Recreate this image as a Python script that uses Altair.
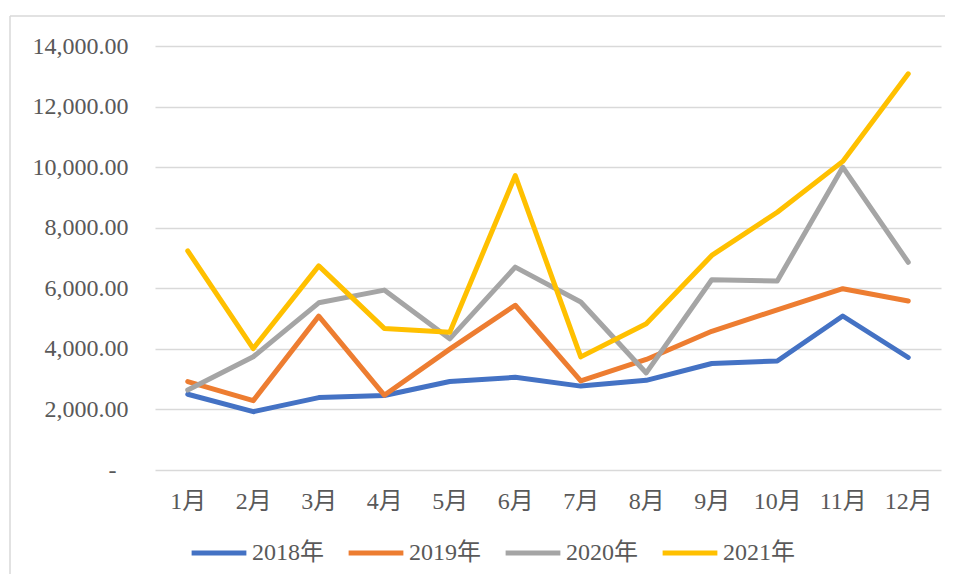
import altair as alt
import pandas as pd

months = ["1月", "2月", "3月", "4月", "5月", "6月", "7月", "8月", "9月", "10月", "11月", "12月"]
series_names = ["2018年", "2019年", "2020年", "2021年"]
v2018 = [2500, 1925, 2390, 2460, 2920, 3060, 2770, 2960, 3515, 3600, 5085, 3715]
v2019 = [2920, 2290, 5080, 2470, 3990, 5440, 2940, 3650, 4580, 5290, 5985, 5580]
v2020 = [2640, 3740, 5520, 5940, 4330, 6700, 5545, 3205, 6280, 6240, 10000, 6860]
v2021 = [7235, 4010, 6740, 4675, 4545, 9720, 3735, 4830, 7085, 8510, 10190, 13080]
colors = ["#4472C4", "#ED7D31", "#A5A5A5", "#FFC000"]
y_ticks = [0, 2000, 4000, 6000, 8000, 10000, 12000, 14000]

rows = []
for name, vals in zip(series_names, [v2018, v2019, v2020, v2021]):
    for m, v in zip(months, vals):
        rows.append({"month": m, "series": name, "value": v})
df = pd.DataFrame(rows)

FONT = "Liberation Serif, Times New Roman, Noto Sans CJK SC"

lines = alt.Chart(df).mark_line(strokeWidth=5, strokeCap="round", strokeJoin="round").encode(
    x=alt.X("month:N", sort=months, title=None,
            scale=alt.Scale(type="point", padding=0.5),
            axis=alt.Axis(labelAngle=0, ticks=False, domain=False, grid=False,
                          labelFontSize=24, labelColor="#595959", labelFont=FONT,
                          labelPadding=19)),
    y=alt.Y("value:Q", title=None,
            scale=alt.Scale(domain=[0, 14000], nice=False),
            axis=alt.Axis(values=y_ticks, ticks=False, domain=False,
                          gridColor="#D9D9D9", gridWidth=1.5,
                          labelFontSize=24, labelColor="#595959", labelFont=FONT,
                          labelPadding={"condition": {"test": "datum.value == 0", "value": 39}, "value": 27},
                          labelExpr="datum.value == 0 ? '-' : format(datum.value, ',.2f')")),
    color=alt.Color("series:N", sort=series_names,
                    scale=alt.Scale(domain=series_names, range=colors),
                    legend=alt.Legend(title=None, orient="none", direction="horizontal",
                                      legendX=34, legendY=477, padding=0,
                                      symbolType="stroke", symbolSize=3000,
                                      symbolStrokeWidth=5, labelOffset=3,
                                      columnPadding=14,
                                      labelFontSize=24, labelColor="#595959",
                                      labelFont=FONT)),
    order=alt.Order("series:N"),
)

border_top = alt.Chart().mark_rule(color="#D9D9D9", strokeWidth=1.5).encode(
    x=alt.value(-145), x2=alt.value(790), y=alt.value(-30)
)
border_left = alt.Chart().mark_rule(color="#D9D9D9", strokeWidth=1.5).encode(
    x=alt.value(-145), y=alt.value(-30), y2=alt.value(530)
)

chart = alt.layer(border_top, border_left, lines).properties(
    width=786, height=424,
    autosize=alt.AutoSizeParams(type="none"),
    padding={"left": 147, "top": 38, "right": 7, "bottom": 104},
).configure_view(stroke=None)

chart.save("out.html", embed_options={"renderer": "svg", "actions": False})
